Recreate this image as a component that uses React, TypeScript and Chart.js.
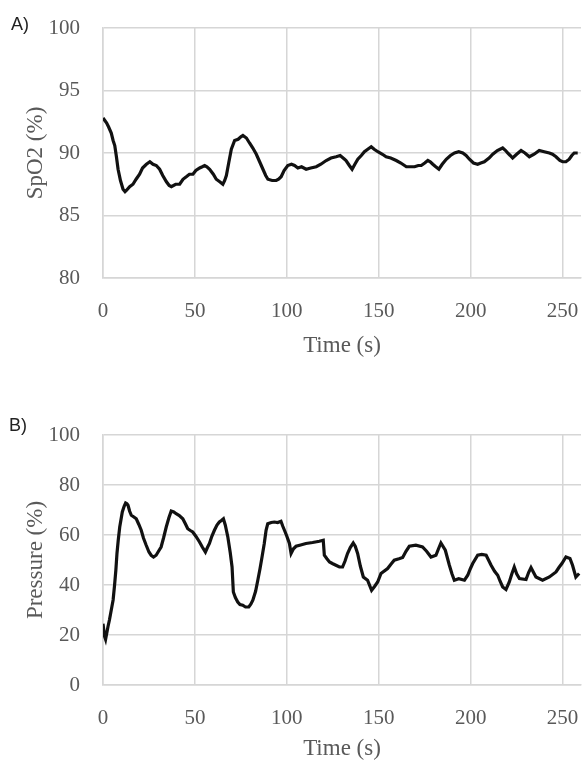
import React, { useEffect, useRef } from "react";
import { Chart, registerables } from "chart.js";

Chart.register(...registerables);

// ---- Data ----
const spo2Time = [
  0, 1, 2, 3, 4.5, 5.5, 6.4, 7.3, 8.2, 9.5, 10.9, 12, 12.7, 14.5, 16.3, 18, 19.9, 21.5, 23.6, 25.5,
  27.2, 29, 30.8, 32.5, 34.5, 36, 37.2, 39.5, 41.7, 43.5, 45.3, 47, 48.9, 50.5, 52.6, 54, 55.3, 56.5, 58, 60,
  61.6, 63.5, 65.2, 66.2, 67.1, 68.5, 69.8, 71.6, 73.5, 75, 76.1, 78, 79.7, 81.5, 83.4, 85.2, 87, 88.5, 89.7, 92,
  94.2, 95.5, 96.9, 98.5, 100.5, 102.5, 104.2, 106, 108, 110.5, 113, 116, 118.5, 121.4, 124, 126.8, 129, 131.4, 132.2, 134,
  135.5, 137, 138.6, 140.5, 142.2, 144, 145.9, 147.5, 149.5, 152, 154, 156.5, 159.5, 162, 165, 167, 169.5, 171.5, 173.1, 175,
  176.7, 178, 179.4, 181, 182.7, 184.5, 186.7, 189, 191.2, 193.5, 195.7, 197.5, 199.3, 201.5, 203.8, 205.5, 207.4, 210, 212, 214.5,
  217.4, 219, 220.1, 221.5, 222.8, 225, 227.4, 229.5, 231.9, 234.5, 237.3, 240, 242.8, 244.5, 246.4, 248.5, 250, 251.8, 253.6, 255,
  256.3, 258.2,
];
const spo2Values = [
  92.8, 92.6, 92.4, 92.1, 91.6, 91.0, 90.6, 89.7, 88.7, 87.8, 87.1, 86.9, 87.0, 87.3, 87.5, 87.9, 88.3, 88.8, 89.1, 89.3,
  89.1, 89.0, 88.7, 88.2, 87.7, 87.4, 87.3, 87.5, 87.5, 87.9, 88.1, 88.3, 88.3, 88.6, 88.8, 88.9, 89.0, 88.9, 88.7, 88.3,
  87.9, 87.7, 87.5, 87.8, 88.2, 89.3, 90.3, 91.0, 91.1, 91.3, 91.4, 91.2, 90.8, 90.4, 89.9, 89.3, 88.7, 88.2, 87.9, 87.8,
  87.8, 87.9, 88.1, 88.6, 89.0, 89.1, 89.0, 88.8, 88.9, 88.7, 88.8, 88.9, 89.1, 89.4, 89.6, 89.7, 89.8, 89.5, 89.4, 89.0,
  88.7, 89.1, 89.5, 89.8, 90.1, 90.3, 90.5, 90.3, 90.1, 89.9, 89.7, 89.6, 89.4, 89.2, 88.9, 88.9, 88.9, 89.0, 89.0, 89.2,
  89.4, 89.3, 89.1, 88.9, 88.7, 89.1, 89.5, 89.8, 90.0, 90.1, 90.0, 89.8, 89.5, 89.2, 89.1, 89.2, 89.3, 89.6, 89.9, 90.2,
  90.4, 90.2, 90.0, 89.8, 89.6, 89.9, 90.2, 90.0, 89.7, 89.9, 90.2, 90.1, 90.0, 89.9, 89.7, 89.4, 89.3, 89.3, 89.5, 89.8,
  90.0, 90.0,
];

const pressureTime = [
  0, 0.9, 1.4, 2.7, 3.5, 4.5, 5.5, 6.3, 7, 7.6, 8.3, 9.1, 10.5, 11.5, 12.3, 13, 13.6, 14.5, 15.4, 16.8,
  18.1, 19.5, 20.8, 22, 23.5, 25, 26.2, 27.5, 28.9, 30.2, 31.6, 33, 34.4, 35.8, 37.1, 38.5, 39.8, 41.5, 43.4, 44.8,
  46.1, 47.5, 48.8, 50.5, 52.5, 54, 55.7, 56.8, 57.9, 59.2, 60.6, 62, 63.3, 64.4, 65.5, 66.5, 67.9, 69.2, 70.2, 70.9,
  72, 73.3, 74.5, 76, 77.5, 79.3, 80.4, 81.5, 83, 84.2, 85.4, 86.5, 87.7, 88.7, 89.6, 91.5, 93.2, 95, 96.8, 97.8,
  98.7, 100, 101.4, 102.3, 103.6, 105, 107.5, 110.4, 114, 117.7, 119.8, 120.4, 121.8, 123.2, 125, 126.7, 128.6, 130.3, 131.6, 133,
  134.5, 136.1, 137.2, 138.5, 140, 141.6, 143.9, 146.1, 147.8, 149.4, 151.2, 154.8, 156.5, 158.4, 161, 163, 164.8, 166.6, 170.2, 173.8,
  176, 178.4, 181.1, 182.5, 183.8, 186.2, 188.4, 189.8, 191.1, 193.5, 196.6, 198.4, 199.8, 201.1, 203.8, 206, 208.4, 211.1, 213, 214.7,
  216, 217.4, 219.2, 221, 222.4, 223.7, 225, 226.5, 230.1, 231.5, 232.8, 234.2, 235.5, 239.1, 242.8, 246.4, 248, 249.6, 251.8, 254,
  255.4, 257.2, 259,
];
const pressureValues = [
  24.5, 19.3, 18.2, 23.3, 26, 30, 34, 40, 46, 52.6, 58, 63.2, 69.2, 71.5, 72.8, 72.5, 71.9, 69.5, 67.9, 67.2,
  66.5, 64.2, 61.9, 58.8, 55.9, 53.2, 51.9, 51.2, 51.9, 53.5, 55.2, 59, 63.2, 66.8, 69.6, 69.2, 68.5, 67.8, 66.5, 64.5,
  62.5, 61.8, 61.2, 59.5, 57.2, 55.2, 53.2, 55.0, 56.6, 59.5, 61.9, 64.0, 65.2, 65.8, 66.5, 64, 59.2, 53, 47.2, 37.2,
  35, 33.2, 32.2, 31.9, 31.2, 31.2, 32.3, 33.9, 37.5, 41.9, 46.5, 51.2, 56.5, 61.9, 64.5, 65.0, 65.2, 65.0, 65.5, 63.5,
  61.9, 59.5, 56.6, 52.6, 54.5, 55.5, 56.0, 56.6, 57.0, 57.5, 57.9, 51.9, 50.5, 49.2, 48.5, 47.9, 47.2, 47.2, 49.5, 52.6,
  55, 56.8, 55.5, 52.6, 47.5, 43.2, 41.9, 37.9, 39.5, 41.2, 44.6, 46.6, 48.2, 49.9, 50.5, 51, 53.5, 55.5, 55.9, 55.2,
  53.5, 51.2, 51.9, 54.5, 56.8, 53.9, 47.9, 44.5, 41.9, 42.5, 41.9, 43.9, 46.5, 48.6, 51.9, 52.2, 51.9, 47.9, 45.5, 43.9,
  41.5, 39.2, 38.2, 41.2, 44.5, 47.2, 44.5, 42.6, 42.2, 45.0, 47, 45.0, 43.2, 41.9, 43.2, 45.2, 47.0, 48.6, 51.2, 50.6,
  47.9, 43.2, 44.6,
];

const xTickStep = 50;
const xMax = 260;
const spo2Range = [80, 100, 5];
const pressureRange = [0, 100, 20];
const xTitle = "Time (s)";
const spo2Title = "SpO2 (%)";
const pressureTitle = "Pressure (%)";

const GRID = "#d6d6d6";
const TEXT = "#595959";
const SERIF = "'Liberation Serif', 'Times New Roman', serif";

type PanelProps = {
  times: number[];
  values: number[];
  range: number[];
  yTitle: string;
  top: number;
  height: number;
  padTop: number;
  xAxisHeight: number;
};

function Panel({ times, values, range, yTitle, top, height, padTop, xAxisHeight }: PanelProps) {
  const ref = useRef<HTMLCanvasElement | null>(null);
  useEffect(() => {
    if (!ref.current) return;
    const data = times.map((t, i) => ({ x: t, y: values[i] }));
    const chart = new Chart(ref.current, {
      type: "line",
      data: {
        datasets: [
          {
            data,
            borderColor: "#111111",
            borderWidth: 3.2,
            pointRadius: 0,
            tension: 0,
            fill: false,
          },
        ],
      },
      options: {
        animation: false,
        responsive: false,
        devicePixelRatio: 1,
        layout: { padding: { top: padTop, right: 3, left: 0, bottom: 0 } },
        plugins: { legend: { display: false }, tooltip: { enabled: false } },
        scales: {
          x: {
            type: "linear",
            min: 0,
            max: xMax,
            afterFit: (s: any) => {
              s.height = xAxisHeight;
              s.paddingLeft = 0;
              s.paddingRight = 0;
              s.paddingTop = 0;
              s.paddingBottom = 0;
            },
            ticks: {
              stepSize: xTickStep,
              includeBounds: false,
              color: TEXT,
              padding: 21,
              maxRotation: 0,
              font: { family: SERIF, size: 21 },
            },
            grid: { color: GRID, lineWidth: 1.5, drawTicks: false },
            border: { color: GRID, width: 1.5 },
            title: {
              display: true,
              text: xTitle,
              color: TEXT,
              font: { family: SERIF, size: 23 },
              padding: { top: 0, bottom: 1 },
            },
          },
          y: {
            type: "linear",
            min: range[0],
            max: range[1],
            afterFit: (s: any) => {
              s.width = 103;
              s.paddingLeft = 0;
              s.paddingRight = 0;
              s.paddingTop = 0;
              s.paddingBottom = 0;
            },
            ticks: {
              stepSize: range[2],
              color: TEXT,
              padding: 23,
              font: { family: SERIF, size: 21 },
            },
            grid: { color: GRID, lineWidth: 1.5, drawTicks: false },
            border: { color: GRID, width: 1.5 },
            title: {
              display: true,
              text: yTitle,
              color: TEXT,
              font: { family: SERIF, size: 23 },
              padding: { top: 22, bottom: 0 },
            },
          },
        },
      },
    });
    return () => chart.destroy();
  }, []);
  return (
    <canvas
      ref={ref}
      width={584}
      height={height}
      style={{ position: "absolute", left: 0, top, width: 584, height }}
    />
  );
}

const labelStyle: React.CSSProperties = {
  position: "absolute",
  fontFamily: "'Liberation Sans', Arial, sans-serif",
  fontSize: 18,
  color: "#222",
  lineHeight: "20px",
};

export default function App() {
  return (
    <div
      style={{
        position: "absolute",
        left: 0,
        top: 0,
        width: 584,
        height: 761,
        overflow: "hidden",
        background: "#fff",
      }}
    >
      <Panel
        times={spo2Time}
        values={spo2Values}
        range={spo2Range}
        yTitle={spo2Title}
        top={0}
        height={361}
        padTop={28}
        xAxisHeight={83}
      />
      <Panel
        times={pressureTime}
        values={pressureValues}
        range={pressureRange}
        yTitle={pressureTitle}
        top={380}
        height={384}
        padTop={55}
        xAxisHeight={79}
      />
      <div style={{ ...labelStyle, left: 11, top: 14 }}>A)</div>
      <div style={{ ...labelStyle, left: 9, top: 415 }}>B)</div>
    </div>
  );
}
